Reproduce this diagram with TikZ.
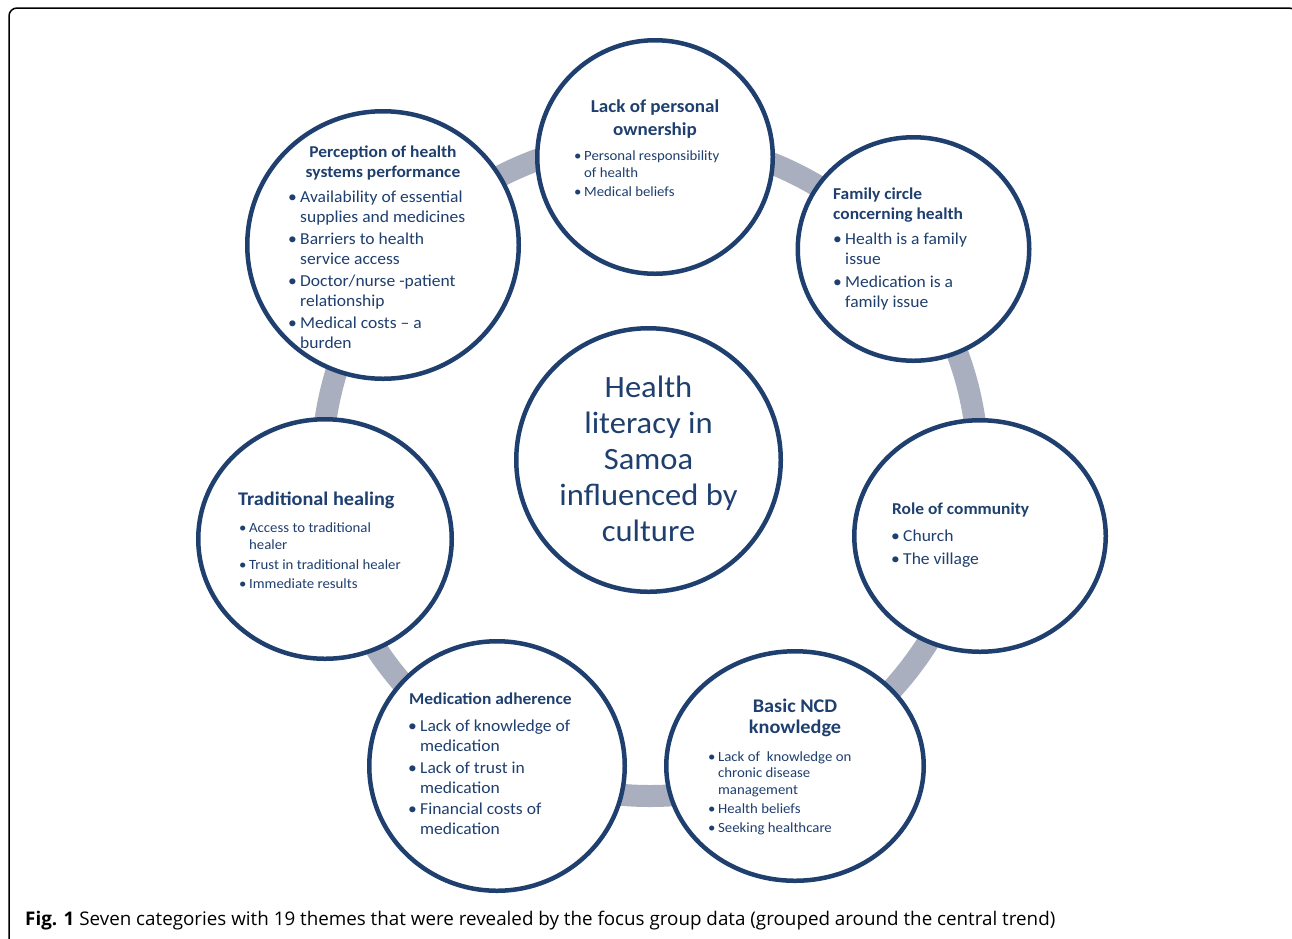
\documentclass[tikz,border=0pt]{standalone}
\usepackage{fontspec}
\setmainfont{Carlito}[FakeStretch=1.05]
\newfontfamily\capfont{Open Sans}
\usetikzlibrary{shapes.geometric,positioning}
\definecolor{navy}{HTML}{1F3F6E}
\definecolor{ringgrey}{HTML}{A9AFBE}
\newcommand{\bul}{\makebox[0.72em][l]{\textbullet}}
\newcommand{\hang}{\hspace*{0.72em}}

\begin{document}
\begin{tikzpicture}[x=1pt, y=-1pt,
    bubble/.style={ellipse, draw=navy, line width=4.5pt, fill=white, inner sep=0pt},
    head/.style={font=\bfseries, text=navy, inner sep=0pt, align=center},
    items/.style={text=navy, inner sep=0pt, align=left, anchor=north west}]
  \useasboundingbox (0,0) rectangle (1292,938);
  \draw[line width=1.5pt, rounded corners=8pt] (9,8) rectangle (1297,995);

  % the grey ring behind the bubbles
  \coordinate (hub) at (650,468);
  \draw[ringgrey, line width=22pt] (hub) circle [radius=328];

  \node[bubble, minimum width=264.5, minimum height=263.5] (centre) at (648.5,460) {};
  \node[bubble, minimum width=235.5, minimum height=233.5] (ownership) at (655,157) {};
  \node[bubble, minimum width=231.5, minimum height=223.5] (family) at (913.5,249) {};
  \node[bubble, minimum width=251.5, minimum height=231.5] (community) at (980,536) {};
  \node[bubble, minimum width=257.5, minimum height=229.5] (ncd) at (795,766) {};
  \node[bubble, minimum width=255.5, minimum height=249.5] (adherence) at (497,766) {};
  \node[bubble, minimum width=253.5, minimum height=239.5] (healing) at (325,539) {};
  \node[bubble, minimum width=271.5, minimum height=267.5] (perception) at (383,245) {};

  \node[text=navy, align=center, font=\fontsize{31}{36}\selectfont] (centreT) at (648.5,459)
    {Health\\literacy in\\Samoa\\influenced by\\culture};

  \node[head, anchor=north, font=\bfseries\fontsize{18.2}{22.5}\selectfont] (ownershipT) at (655,100)
    {Lack of personal\\ownership};
  \node[items, font=\fontsize{14.1}{17}\selectfont] (ownershipL) at (573.8,151)
    {\bul Personal responsibility\\\hang of health\\[2pt]\bul Medical beliefs};

  \node[head, anchor=north, font=\bfseries\fontsize{16.6}{19.5}\selectfont] (perceptionT) at (383,146)
    {Perception of health\\systems performance};
  \node[items, font=\fontsize{16.7}{20}\selectfont] (perceptionL) at (288,191)
    {\bul Availability of essential\\\hang supplies and medicines\\[2pt]
     \bul Barriers to health\\\hang service access\\[2pt]
     \bul Doctor/nurse -patient\\\hang relationship\\[2pt]
     \bul Medical costs -- a\\\hang burden};

  \node[head, anchor=north west, align=left, font=\bfseries\fontsize{16.6}{20}\selectfont] (familyT) at (833,188)
    {Family circle\\concerning health};
  \node[items, font=\fontsize{16.7}{20}\selectfont] (familyL) at (833,233)
    {\bul Health is a family\\\hang issue\\[3pt]
     \bul Medication is a\\\hang family issue};

  \node[head, anchor=north west, align=left, font=\bfseries\fontsize{16.6}{20}\selectfont] (communityT) at (892,503)
    {Role of community};
  \node[items, font=\fontsize{16.7}{23}\selectfont] (communityL) at (891,530)
    {\bul Church\\\bul The village};

  \node[head, anchor=north, font=\bfseries\fontsize{19.3}{21}\selectfont] (ncdT) at (795,699)
    {Basic NCD\\knowledge};
  \node[items, font=\fontsize{14.1}{16.5}\selectfont] (ncdL) at (707.8,751)
    {\bul Lack of\ \ knowledge on\\\hang chronic disease\\\hang management\\[3pt]
     \bul Health beliefs\\[2pt]\bul Seeking healthcare};

  \node[head, anchor=north west, align=left, font=\bfseries\fontsize{16.6}{20}\selectfont] (adherenceT) at (409,693)
    {Medication adherence};
  \node[items, font=\fontsize{16.7}{20}\selectfont] (adherenceL) at (408,720)
    {\bul Lack of knowledge of\\\hang medication\\[1.5pt]
     \bul Lack of trust in\\\hang medication\\[1.5pt]
     \bul Financial costs of\\\hang medication};

  \node[head, anchor=north west, align=left, font=\bfseries\fontsize{19.3}{21}\selectfont] (healingT) at (238,492)
    {Traditional healing};
  \node[items, font=\fontsize{14.1}{17}\selectfont] (healingL) at (238.8,522)
    {\bul Access to traditional\\\hang healer\\[3pt]
     \bul Trust in traditional healer\\[2pt]\bul Immediate results};

  \node[anchor=base west, inner sep=0pt, font=\capfont\fontsize{18.8}{22}\selectfont] (caption) at (25,925)
    {\textbf{Fig. 1} Seven categories with 19 themes that were revealed by the focus group data (grouped around the central trend)};
\end{tikzpicture}
\end{document}
